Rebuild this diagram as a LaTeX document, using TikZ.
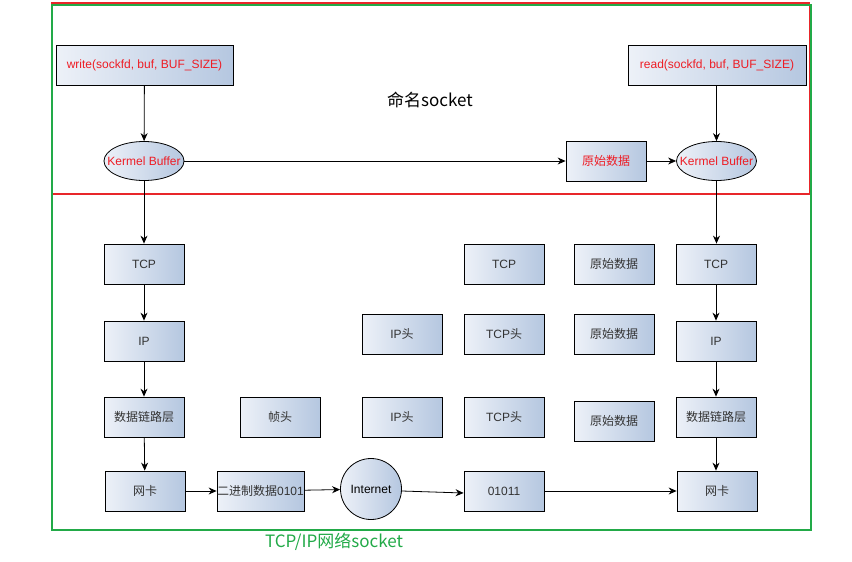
\documentclass[tikz,border=0pt]{standalone}
\usepackage{fontspec}
\setmainfont{Liberation Sans}
\newfontfamily\cjk{Noto Sans CJK SC}
\usetikzlibrary{arrows.meta,shapes.geometric}
\definecolor{boxL}{HTML}{EDF1F8}
\definecolor{boxR}{HTML}{B5C7E0}
\definecolor{txtgray}{HTML}{333333}
\definecolor{redtxt}{HTML}{EE1C24}
\definecolor{frameRed}{HTML}{E8262A}
\definecolor{frameGreen}{HTML}{22AA48}
\tikzset{
  box/.style={draw=black, line width=0.8pt, left color=boxL, right color=boxR,
    minimum width=80pt, minimum height=40pt, inner sep=0pt,
    font=\fontsize{12}{14}\selectfont, text=txtgray},
  redbox/.style={box, text=redtxt},
  kbuf/.style={ellipse, draw=black, line width=0.8pt, left color=boxL, right color=boxR,
    minimum width=80pt, minimum height=39pt, inner sep=0pt},
  kbtext/.style={font=\fontsize{12}{14}\selectfont, text=redtxt, inner sep=0pt},
  inetc/.style={circle, draw=black, line width=0.8pt, left color=boxL, right color=boxR,
    minimum size=61pt, inner sep=0pt, font=\fontsize{12}{14}\selectfont, text=black},
  arr/.style={draw=black, line width=0.8pt, -{Stealth[length=8pt,width=7pt]}},
  title/.style={font=\cjk\fontsize{17}{20}\selectfont}
}
\begin{document}
\begin{tikzpicture}[x=1pt,y=-1pt]
\useasboundingbox (0,0) rectangle (852,562);
\fill[white] (0,0) rectangle (852,562);
% frames
\draw[frameRed, line width=1.6pt] (52,3) rectangle (809.5,194);
\draw[frameGreen, line width=1.6pt] (52,5) rectangle (811,530);
% top section
\node[redbox, minimum width=177pt] (write) at (144.5,65) {write(sockfd, buf, BUF\_SIZE)};
\node[redbox, minimum width=178pt] (read) at (717,65) {read(sockfd, buf, BUF\_SIZE)};
\node[kbuf, label={[kbtext]center:Kermel Buffer}] (kbL) at (144,161) {};
\node[kbuf, label={[kbtext]center:Kermel Buffer}] (kbR) at (716.5,161) {};
\node[redbox] (raw0) at (606,161) {\cjk 原始数据};
\node[title, text=black] (name) at (430,100) {命名socket};
% left column
\node[box] (wtcp) at (144,264) {TCP};
\node[box] (wip) at (144,341) {IP};
\node[box] (wdl) at (144,417) {\cjk 数据链路层};
\node[box] (wnic) at (145,491) {\cjk 网卡};
\node[box] (frame) at (280,417) {\cjk 帧头};
\node[box, minimum width=87pt] (bin) at (260.5,491) {{\cjk 二进制数据}0101};
\node[inetc] (inet) at (371,489) {Internet};
% middle packets
\node[box] (tcp2) at (504,264) {TCP};
\node[box] (raw1) at (614,264) {\cjk 原始数据};
\node[box] (iph1) at (402,334) {IP{\cjk 头}};
\node[box] (tcph1) at (504,334) {TCP{\cjk 头}};
\node[box] (raw2) at (614,334) {\cjk 原始数据};
\node[box] (iph2) at (402,417) {IP{\cjk 头}};
\node[box] (tcph2) at (504,417) {TCP{\cjk 头}};
\node[box] (raw3) at (614,421) {\cjk 原始数据};
\node[box] (bits) at (504,491) {01011};
% right column
\node[box] (rtcp) at (716,264) {TCP};
\node[box] (rip) at (716,341) {IP};
\node[box] (rdl) at (716,417) {\cjk 数据链路层};
\node[box] (rnic) at (717,491) {\cjk 网卡};
% bottom label
\node[title, text=frameGreen] (lbl) at (334,542) {TCP/IP网络socket};
% arrows
\draw[arr] (write) -- (kbL);
\draw[arr] (kbL) -- (raw0);
\draw[arr] (raw0) -- (kbR);
\draw[arr] (read.south -| kbR) -- (kbR);
\draw[arr] (kbL) -- (wtcp);
\draw[arr] (wtcp) -- (wip);
\draw[arr] (wip) -- (wdl);
\draw[arr] (wdl) -- (wnic);
\draw[arr] (wnic) -- (bin);
\draw[arr] (bin) -- (inet);
\draw[arr] ([yshift=-2pt]inet.east) -- ([yshift=-2pt]bits.west);
\draw[arr] (bits) -- (rnic);
\draw[arr] (kbR.south) -- (kbR.south |- rtcp.north);
\draw[arr] (rtcp) -- (rip);
\draw[arr] (rip) -- (rdl);
\draw[arr] (rdl) -- (rdl.south |- rnic.north);
\end{tikzpicture}
\end{document}
